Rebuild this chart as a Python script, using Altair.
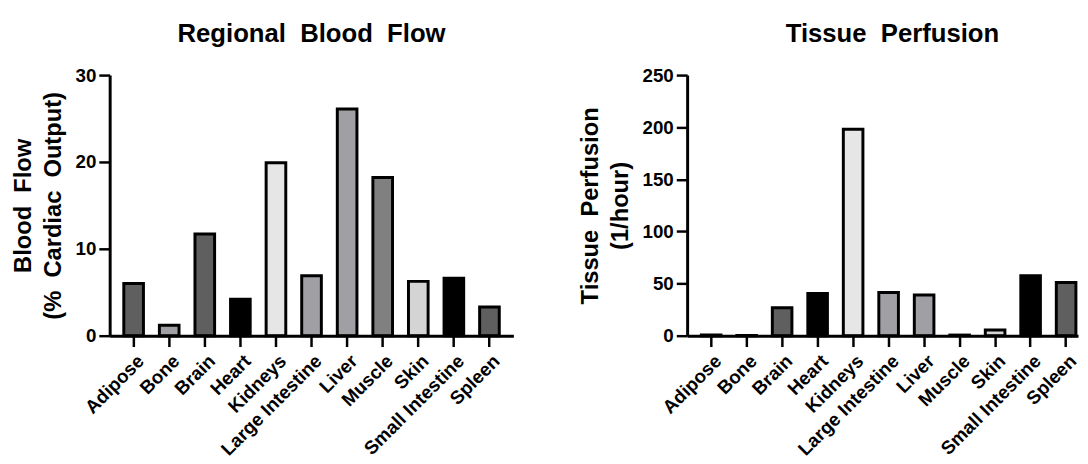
import altair as alt
import pandas as pd

organs = ["Adipose", "Bone", "Brain", "Heart", "Kidneys", "Large Intestine",
          "Liver", "Muscle", "Skin", "Small Intestine", "Spleen"]
blood_flow = [6.0, 1.2, 11.7, 4.2, 19.9, 6.9, 26.1, 18.2, 6.25, 6.6, 3.3]
perfusion = [0.6, 0.1, 26.8, 40.6, 198.0, 41.5, 39.0, 0.6, 5.4, 57.5, 51.0]
bar_colors = ["#5f5f5f", "#a0a0a4", "#5f5f5f", "#000000", "#e6e6e6", "#a0a0a4",
              "#a0a0a4", "#808080", "#d4d4d4", "#000000", "#5f5f5f"]

df = pd.DataFrame({"organ": organs, "flow": blood_flow, "perf": perfusion})

FONT = "Liberation Sans"
S = "\u00a0 "


def panel(field, title, ytitle, ymax, step, width, pad_outer, align, dx):
    x = alt.X(
        "organ:N", sort=organs, title=None,
        scale=alt.Scale(paddingInner=0.448, paddingOuter=pad_outer, align=align),
        axis=alt.Axis(labelAngle=-45, labelAlign="right", labelBaseline="top",
                      labelFontSize=19, labelFont=FONT, labelOffset=1,
                      labelFontWeight="bold", labelColor="black",
                      domainColor="black", domainWidth=3, tickColor="black",
                      tickWidth=2.5, tickSize=11, labelPadding=5, zindex=1),
    )
    y = alt.Y(
        f"{field}:Q", title=ytitle,
        scale=alt.Scale(domain=[0, ymax], nice=False),
        axis=alt.Axis(values=list(range(0, ymax + 1, step)), labelFontSize=19,
                      labelFont=FONT, labelFontWeight="bold", labelColor="black",
                      domainColor="black", domainWidth=3, tickColor="black",
                      tickWidth=2.5, tickSize=11, labelPadding=3, grid=False,
                      titleFont=FONT, titleFontSize=24, titleFontWeight="bold",
                      titleColor="black", titleLineHeight=30, titlePadding=10,
                      zindex=1),
    )
    color = alt.Color("organ:N", scale=alt.Scale(domain=organs, range=bar_colors),
                      legend=None)
    return (
        alt.Chart(df)
        .mark_bar(stroke="black", strokeWidth=3)
        .encode(x=x, y=y, color=color)
        .properties(
            width=width, height=264,
            title=alt.TitleParams(title, font=FONT, fontSize=26, fontWeight="bold",
                                  color="black", anchor="middle", frame="group",
                                  offset=20, dx=dx),
        )
    )


left = panel("flow", f"Regional{S}Blood{S}Flow",
             [f"Blood{S}Flow", f"(%{S}Cardiac{S}Output)"], 30, 10, 409, 0.397, 0.5, 0)
right = panel("perf", f"Tissue{S}Perfusion",
              [f"Tissue{S}Perfusion", "(1/hour)"], 250, 50, 396, 0.23, 0.87, 10)

chart = (
    alt.hconcat(left, right, spacing=66)
    .configure_view(stroke=None)
    .properties(padding={"left": 3, "top": 10, "right": 0, "bottom": 0})
)

chart.save("out.html", embed_options={"renderer": "svg", "actions": False})
